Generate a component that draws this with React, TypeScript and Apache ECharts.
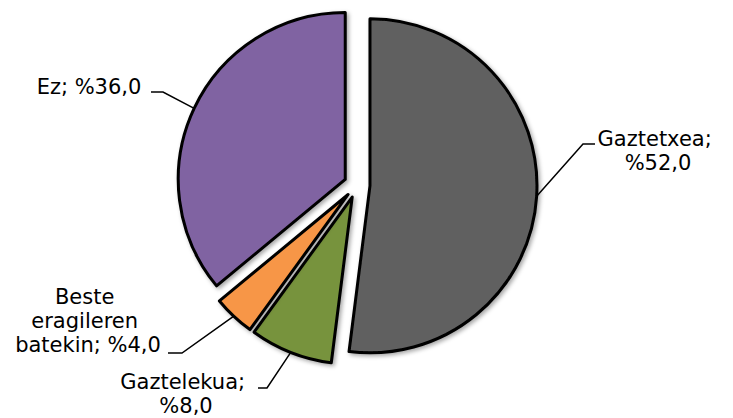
import React, { useEffect, useRef } from "react";
import * as echarts from "echarts";

const categories = ["Gaztetxea", "Gaztelekua", "Beste eragileren batekin", "Ez"];
const values = [52, 8, 4, 36];
const colors = ["#606060", "#77933C", "#F79646", "#8064A2"];

// label layout: text block centre, elbow point, line end (near text)
const labelCenters = [
  [658, 151],
  [186, 394],
  [88, 321],
  [89, 87],
];
const labelElbows = [
  [[583, 144], [595, 144]],
  [[267, 388], [258, 388]],
  [[182, 353], [168, 353]],
  [[163, 92], [151, 92]],
];
const labelWidths = [130, 135, 160, 200];

const CX = 357;
const CY = 185;
const RADIUS = 167;
const EXPLODE = 13;

export default function App() {
  const ref = useRef<HTMLDivElement>(null);
  useEffect(() => {
    document.body.style.margin = "0";
    const chart = echarts.init(ref.current!, undefined, { renderer: "svg" });
    const total = values.reduce((a, b) => a + b, 0);
    let cum = 0;
    const series = categories.map((name, i) => {
      const before = cum;
      const v = values[i];
      cum += v;
      const after = total - cum;
      const mid = ((before + v / 2) / total) * Math.PI * 2;
      const cx = CX + EXPLODE * Math.sin(mid);
      const cy = CY - EXPLODE * Math.cos(mid);
      const filler = (val: number) => ({
        name: "",
        value: val,
        itemStyle: { color: "rgba(0,0,0,0)", borderWidth: 0, shadowBlur: 0, shadowColor: "rgba(0,0,0,0)" },
        label: { show: false },
        labelLine: { show: false },
        tooltip: { show: false },
      });
      const data: any[] = [];
      if (before > 0) data.push(filler(before));
      data.push({
        name,
        value: v,
        itemStyle: { color: colors[i] },
        label: { width: labelWidths[i] },
      });
      if (after > 0) data.push(filler(after));
      return {
        type: "pie",
        center: [cx, cy],
        radius: RADIUS,
        startAngle: 90,
        clockwise: true,
        silent: true,
        avoidLabelOverlap: false,
        emphasis: { disabled: true },
        itemStyle: {
          borderColor: "#000",
          borderWidth: 3,
          borderJoin: "round",
          shadowBlur: 4,
          shadowOffsetX: 2,
          shadowOffsetY: 2,
          shadowColor: "rgba(0,0,0,0.35)",
        },
        label: {
          show: true,
          fontFamily: "DejaVu Sans",
          fontSize: 21,
          lineHeight: 24,
          color: "#000",
          align: "center",
          overflow: "break",
          formatter: (p: any) => `${p.name}; %${p.value.toFixed(1).replace(".", ",")}`,
        },
        labelLine: {
          show: true,
          lineStyle: { color: "#000", width: 1.5 },
        },
        labelLayout: (p: any) => {
          const start = p.labelLinePoints ? p.labelLinePoints[0] : labelElbows[i][0];
          return {
            x: labelCenters[i][0],
            y: labelCenters[i][1],
            align: "center",
            verticalAlign: "middle",
            labelLinePoints: [start, labelElbows[i][0], labelElbows[i][1]],
          };
        },
        data,
      };
    });
    chart.setOption({
      animation: false,
      backgroundColor: "#ffffff",
      series,
    });
    return () => chart.dispose();
  }, []);
  return <div ref={ref} style={{ width: 733, height: 418 }} />;
}
